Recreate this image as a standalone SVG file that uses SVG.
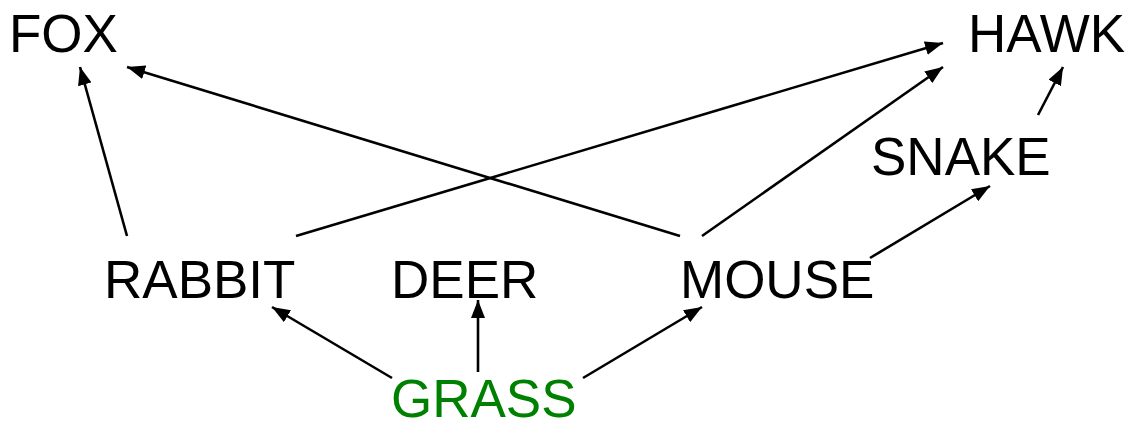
<svg xmlns="http://www.w3.org/2000/svg" width="1131" height="423" viewBox="0 0 1131 423">
  <style>
    .lbl { font-family: "Liberation Sans", Arial, sans-serif; font-size: 53px; fill: #000; }
    .plant { fill: #008000; }
    .edge { stroke: #000; stroke-width: 2.6; fill: none; marker-end: url(#arrow); }
  </style>
  <defs>
    <marker id="arrow" markerUnits="userSpaceOnUse" markerWidth="18" markerHeight="14" refX="18" refY="7" orient="auto">
      <path d="M0,0 L18,7 L0,14 z" fill="#000"/>
    </marker>
  </defs>
  <rect width="1131" height="423" fill="#fff"/>

  <!-- food web links: arrow points from prey to predator -->
  <g id="connectors">
    <line class="edge" x1="127" y1="236" x2="80" y2="67"/>
    <line class="edge" x1="680" y1="236" x2="127" y2="67"/>
    <line class="edge" x1="296" y1="236" x2="943" y2="43"/>
    <line class="edge" x1="702" y1="236" x2="943" y2="67"/>
    <line class="edge" x1="1038" y1="115" x2="1063" y2="67"/>
    <line class="edge" x1="870" y1="258" x2="990" y2="186"/>
    <line class="edge" x1="392" y1="378" x2="272" y2="307"/>
    <line class="edge" x1="478" y1="372" x2="478" y2="300"/>
    <line class="edge" x1="583" y1="378" x2="702" y2="307"/>
  </g>

  <g id="fox"><text class="lbl" x="9" y="52">FOX</text></g>
  <g id="hawk"><text class="lbl" x="968" y="52">HAWK</text></g>
  <g id="snake"><text class="lbl" x="871" y="175">SNAKE</text></g>
  <g id="rabbit"><text class="lbl" x="104" y="298">RABBIT</text></g>
  <g id="deer"><text class="lbl" x="391" y="298">DEER</text></g>
  <g id="mouse"><text class="lbl" x="680" y="298">MOUSE</text></g>
  <g id="grass"><text class="lbl plant" x="391" y="417">GRASS</text></g>
</svg>
